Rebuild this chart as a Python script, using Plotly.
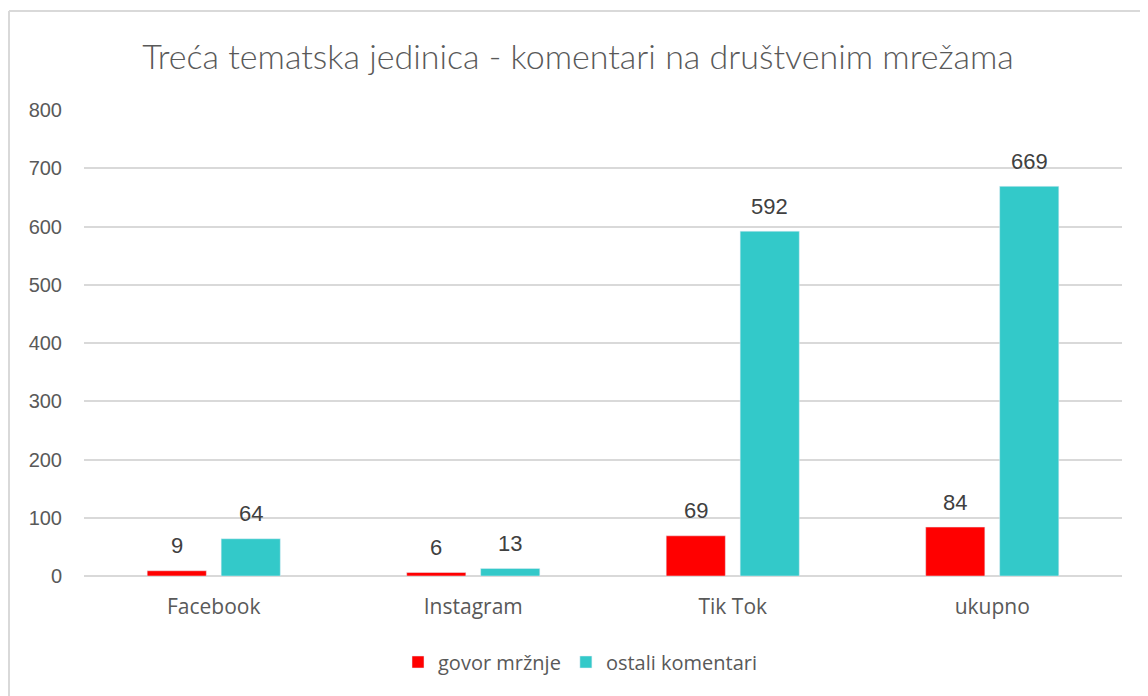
import plotly.graph_objects as go

# chart data
categories = ["Facebook", "Instagram", "Tik Tok", "ukupno"]
hate_speech = [9, 6, 69, 84]
other_comments = [64, 13, 592, 669]
y_ticks = [0, 100, 200, 300, 400, 500, 600, 700, 800]

# page body adds an 8px offset, so the figure is 8px smaller than the window
W, H = 1140, 688
ML, MR, MT, MB = 76, 26, 102, 120
pw = W - ML - MR
ph = H - MT - MB


def px_x(v):
    return (v - ML) / pw


def px_y(v):
    return (H - MB - v) / ph


fig = go.Figure()

fig.add_trace(go.Bar(
    x=categories, y=hate_speech, name="govor mržnje",
    marker_color="#ff0000",
))
fig.add_trace(go.Bar(
    x=categories, y=other_comments, name="ostali komentari",
    marker_color="#33c9c9",
))

# value labels sit well above the bars, as in the reference
label_font = dict(family="Liberation Sans", size=22, color="#404040")
for series, shift in ((hate_speech, -37), (other_comments, 37)):
    for cat, val in zip(categories, series):
        fig.add_annotation(
            x=cat, y=val, text=str(val), showarrow=False,
            xshift=shift, yshift=25, yanchor="middle",
            font=label_font,
        )

# light outer frame (left and top edges)
frame = dict(color="#d9d9d9", width=2)
fig.add_shape(type="line", xref="paper", yref="paper",
              x0=px_x(1), x1=px_x(1), y0=px_y(3), y1=px_y(H), line=frame)
fig.add_shape(type="line", xref="paper", yref="paper",
              x0=px_x(1), x1=px_x(W), y0=px_y(3), y1=px_y(3), line=frame)

fig.update_layout(
    width=W, height=H,
    margin=dict(l=ML, r=MR, t=MT, b=MB),
    paper_bgcolor="white", plot_bgcolor="white",
    barmode="group", bargap=0.43, bargroupgap=0.2,
    title=dict(
        text="Treća tematska jedinica - komentari na društvenim mrežama",
        x=0.5, xanchor="center", y=1 - 49 / H, yanchor="middle",
        font=dict(family="Lato", size=34, color="#595959", weight=300),
    ),
    font=dict(family="Liberation Sans", color="#595959"),
    xaxis=dict(
        showgrid=False, showline=False, ticks="",
        tickfont=dict(family="Open Sans", size=21, color="#595959"),
        ticklabelstandoff=16,
    ),
    yaxis=dict(
        range=[0, 800], tickvals=y_ticks, showline=False, ticks="",
        gridcolor="#d9d9d9", gridwidth=1.5, zeroline=True,
        zerolinecolor="#d9d9d9", zerolinewidth=1.5,
        tickfont=dict(family="Liberation Sans", size=20, color="#595959"),
        ticklabelstandoff=21,
    ),
    legend=dict(
        orientation="h", x=px_x(390), xanchor="left",
        y=px_y(654), yanchor="middle",
        font=dict(family="Open Sans", size=20, color="#595959"),
        itemwidth=30,
    ),
)

fig.write_html("out.html")
